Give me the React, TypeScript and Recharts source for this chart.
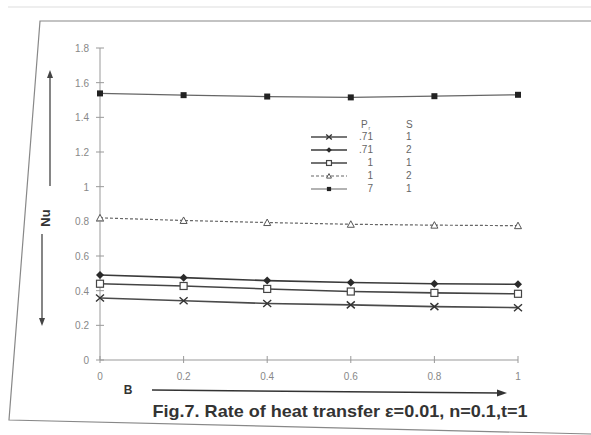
import React from 'react';
import { LineChart, Line, XAxis, YAxis } from 'recharts';

// B values along the x axis
const bValues = [0, 0.2, 0.4, 0.6, 0.8, 1];

// Nu for each (Pr, S) pair
const nuPr071S1 = [0.358, 0.342, 0.326, 0.318, 0.308, 0.302];
const nuPr071S2 = [0.49, 0.475, 0.458, 0.447, 0.44, 0.437];
const nuPr1S1 = [0.44, 0.427, 0.41, 0.395, 0.387, 0.382];
const nuPr1S2 = [0.82, 0.805, 0.793, 0.783, 0.778, 0.775];
const nuPr7S1 = [1.538, 1.528, 1.52, 1.515, 1.522, 1.53];

const xTicks = [0, 0.2, 0.4, 0.6, 0.8, 1];
const yTicks = [0, 0.2, 0.4, 0.6, 0.8, 1, 1.2, 1.4, 1.6, 1.8];

const legendPr = ['.71', '.71', '1', '1', '7'];
const legendS = ['1', '2', '1', '2', '1'];

const data = bValues.map((b, i) => ({
  b,
  a: nuPr071S1[i],
  d: nuPr071S2[i],
  sq: nuPr1S1[i],
  tr: nuPr1S2[i],
  top: nuPr7S1[i],
}));

const FONT = '"Liberation Sans", Arial, sans-serif';

type Shape = 'x' | 'diamond' | 'square' | 'triangle' | 'filled';

const series: { key: string; shape: Shape; color: string; dash?: string; width: number }[] = [
  { key: 'a', shape: 'x', color: '#4a4a4a', width: 1.6 },
  { key: 'd', shape: 'diamond', color: '#3a3a3a', width: 1.6 },
  { key: 'sq', shape: 'square', color: '#444', width: 1.6 },
  { key: 'tr', shape: 'triangle', color: '#666', dash: '3 2', width: 1.2 },
  { key: 'top', shape: 'filled', color: '#666', width: 1.2 },
];

function Marker({ shape, cx, cy, s = 1 }: { shape: Shape; cx: number; cy: number; s?: number }) {
  if (shape === 'x')
    return (
      <path
        d={`M${cx - 4 * s},${cy - 3.5 * s}L${cx + 4 * s},${cy + 3.5 * s}M${cx - 4 * s},${cy + 3.5 * s}L${cx + 4 * s},${cy - 3.5 * s}`}
        stroke="#333"
        strokeWidth={1.4}
      />
    );
  if (shape === 'diamond')
    return <path d={`M${cx},${cy - 4 * s}L${cx + 4 * s},${cy}L${cx},${cy + 4 * s}L${cx - 4 * s},${cy}Z`} fill="#2a2a2a" />;
  if (shape === 'square')
    return <rect x={cx - 3.5 * s} y={cy - 3.5 * s} width={7 * s} height={7 * s} fill="#fff" stroke="#444" strokeWidth={1.2} />;
  if (shape === 'triangle')
    return (
      <path d={`M${cx},${cy - 3.5 * s}L${cx + 3.5 * s},${cy + 3 * s}L${cx - 3.5 * s},${cy + 3 * s}Z`} fill="#fff" stroke="#555" strokeWidth={1} />
    );
  return <rect x={cx - 3 * s} y={cy - 3 * s} width={6 * s} height={6 * s} fill="#222" />;
}

const dotFor = (shape: Shape) => (props: any) => (
  <Marker key={`${shape}-${props.index}`} shape={shape} cx={props.cx} cy={props.cy} />
);

function YTick(props: any) {
  const { x, y, payload } = props;
  return (
    <g>
      <line x1={x - 4} x2={x + 4} y1={y} y2={y} stroke="#999" />
      <text x={x - 11} y={y + 4} textAnchor="end" fontSize={10} fill="#888" fontFamily={FONT}>
        {String(payload.value)}
      </text>
    </g>
  );
}

function XTick(props: any) {
  const { x, y, payload } = props;
  return (
    <g>
      <line x1={x} x2={x} y1={y - 4} y2={y + 3} stroke="#999" />
      <text x={x} y={y + 20} textAnchor="middle" fontSize={10} fill="#888" fontFamily={FONT}>
        {String(payload.value)}
      </text>
    </g>
  );
}

function LegendBox() {
  return (
    <svg width={120} height={80} style={{ display: 'block' }}>
      <text x={50} y={8} fontSize={10} fill="#666" fontFamily={FONT}>P</text>
      <text x={57.5} y={10} fontSize={5} fill="#666" fontFamily={FONT}>r</text>
      <text x={95} y={8} fontSize={10} fill="#666" fontFamily={FONT}>S</text>
      {series.map((s, i) => {
        const cy = 17 + i * 13;
        return (
          <g key={s.key}>
            <line x1={0} x2={36} y1={cy} y2={cy} stroke={s.color} strokeWidth={s.width} strokeDasharray={s.dash} />
            <Marker shape={s.shape} cx={18} cy={cy} s={0.7} />
            <text x={62} y={cy + 3} textAnchor="end" fontSize={10} fill="#666" fontFamily={FONT}>{legendPr[i]}</text>
            <text x={95} y={cy + 3} fontSize={10} fill="#666" fontFamily={FONT}>{legendS[i]}</text>
          </g>
        );
      })}
    </svg>
  );
}

export default function App() {
  return (
    <div style={{ position: 'absolute', left: 0, top: 0, width: 591, height: 435, background: '#fff', overflow: 'hidden' }}>
      <svg width={591} height={435} style={{ position: 'absolute', left: 0, top: 0 }}>
        <line x1={8} x2={591} y1={7} y2={7} stroke="#ddd" strokeWidth={1} />
        <path d="M591,21L40,21L9,420L591,434" fill="none" stroke="#888" strokeWidth={1.2} />
        {/* Nu label with arrows */}
        <line x1={50} x2={50} y1={186} y2={76} stroke="#444" strokeWidth={1.3} />
        <path d="M50,70L47,78L53,78Z" fill="#444" />
        <text x={0} y={0} transform="translate(50,218) rotate(-90)" textAnchor="middle" fontSize={13} fontWeight="bold" fill="#333" fontFamily={FONT}>Nu</text>
        <line x1={42} x2={42} y1={234} y2={320} stroke="#444" strokeWidth={1.3} />
        <path d="M42,326L39,318L45,318Z" fill="#444" />
        {/* B label and arrow */}
        <text x={128} y={394} textAnchor="middle" fontSize={12} fontWeight="bold" fill="#333" fontFamily={FONT}>B</text>
        <line x1={152} x2={500} y1={390} y2={393} stroke="#333" strokeWidth={1.5} />
        <path d="M507,393L497,389.5L497,396.5Z" fill="#333" />
        <text x={340} y={417} textAnchor="middle" fontSize={17} fontWeight="bold" fill="#333" fontFamily={FONT} textLength={375} lengthAdjust="spacingAndGlyphs">
          Fig.7. Rate of heat transfer ε=0.01, n=0.1,t=1
        </text>
      </svg>
      <div style={{ position: 'absolute', left: 0, top: 0 }}>
        <LineChart width={591} height={435} data={data} margin={{ top: 48, right: 73, bottom: 45, left: 0 }}>
          <XAxis
            dataKey="b"
            type="number"
            domain={[0, 1]}
            ticks={xTicks}
            height={30}
            tickSize={0}
            tickMargin={0}
            axisLine={{ stroke: '#999' }}
            tick={<XTick />}
            interval={0}
          />
          <YAxis
            type="number"
            domain={[0, 1.8]}
            ticks={yTicks}
            width={100}
            tickSize={0}
            tickMargin={0}
            axisLine={{ stroke: '#999' }}
            tick={<YTick />}
            interval={0}
          />
          {series.map((s) => (
            <Line
              key={s.key}
              dataKey={s.key}
              stroke={s.color}
              strokeWidth={s.width}
              strokeDasharray={s.dash}
              dot={dotFor(s.shape)}
              activeDot={false}
              isAnimationActive={false}
              type="linear"
            />
          ))}
        </LineChart>
      </div>
      <div style={{ position: 'absolute', left: 311, top: 120 }}>
        <LegendBox />
      </div>
    </div>
  );
}
